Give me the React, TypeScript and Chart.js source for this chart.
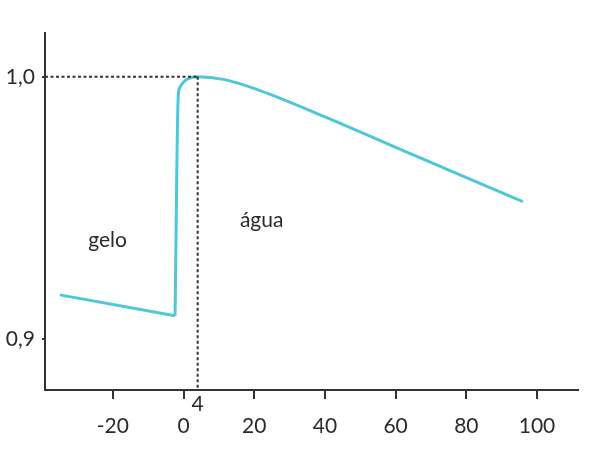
import React, { useEffect, useRef } from "react";
import { Chart, registerables } from "chart.js";

Chart.register(...registerables);

const iceTemps = [-35, -2.4];
const iceDensity = [0.9168, 0.9088];

const waterTemps = [-2.4, -1.55, -1.1, 0.4, 4, 11.3, 20.7, 39.5, 65.0, 96];
const waterDensity = [0.9088, 0.9912, 0.9958, 0.9985, 1.0, 0.999, 0.9952, 0.985, 0.9702, 0.9524];

const xTicks = [-20, 0, 20, 40, 60, 80, 100];
const yTicks = [0.9, 1.0];
const maxTemp = 4;
const maxDensity = 1.0;
const labels = [
  { text: "gelo", x: -21.5, y: 0.9378 },
  { text: "água", x: 22.1, y: 0.9454 },
];

const FONT = "Lato, 'Open Sans', sans-serif";
const LINE = "#4fc7d9";
const INK = "#2a2a2a";

const overlay = {
  id: "overlay",
  afterDatasetsDraw(chart: any) {
    const { ctx, scales, chartArea } = chart;
    const xs = scales.x;
    const ys = scales.y;
    const px = xs.getPixelForValue(maxTemp);
    const py = ys.getPixelForValue(maxDensity);
    ctx.save();
    ctx.strokeStyle = "#333";
    ctx.lineWidth = 2;
    ctx.setLineDash([3, 2.5]);
    ctx.beginPath();
    ctx.moveTo(chartArea.left, py);
    ctx.lineTo(px, py);
    ctx.moveTo(px, py);
    ctx.lineTo(px, chartArea.bottom);
    ctx.stroke();
    ctx.setLineDash([]);
    ctx.fillStyle = INK;
    ctx.font = "21px " + FONT;
    ctx.textAlign = "center";
    ctx.textBaseline = "middle";
    ctx.fillText(String(maxTemp), px, chartArea.bottom + 14);
    for (const l of labels) {
      ctx.fillText(l.text, xs.getPixelForValue(l.x), ys.getPixelForValue(l.y));
    }
    ctx.restore();
  },
};

export default function App() {
  const ref = useRef<HTMLCanvasElement>(null);
  useEffect(() => {
    if (!ref.current) return;
    const chart = new Chart(ref.current, {
      type: "line",
      data: {
        datasets: [
          {
            data: iceTemps.map((t, i) => ({ x: t, y: iceDensity[i] })),
            borderColor: LINE,
            borderWidth: 3,
            pointRadius: 0,
            tension: 0,
          },
          {
            data: waterTemps.map((t, i) => ({ x: t, y: waterDensity[i] })),
            borderColor: LINE,
            borderWidth: 3,
            pointRadius: 0,
            cubicInterpolationMode: "monotone",
          },
        ],
      },
      options: {
        responsive: false,
        animation: false,
        events: [],
        layout: { padding: { top: 33, right: 14, left: 0, bottom: 0 } },
        plugins: { legend: { display: false }, tooltip: { enabled: false } },
        scales: {
          x: {
            type: "linear",
            min: -39.2,
            max: 111.6,
            afterBuildTicks: (s: any) => {
              s.ticks = xTicks.map((v) => ({ value: v }));
            },
            afterFit: (s: any) => {
              s.height = 66;
            },
            border: { display: true, color: "#333", width: 2 },
            grid: { display: true, drawOnChartArea: false, drawTicks: true, tickLength: 9, color: "#333", lineWidth: 2 },
            ticks: {
              color: INK,
              font: { family: FONT, size: 21 },
              padding: 15,
              maxRotation: 0,
              autoSkip: false,
              callback: (v: any) => String(v),
            },
          },
          y: {
            type: "linear",
            min: 0.8805,
            max: 1.0167,
            afterBuildTicks: (s: any) => {
              s.ticks = yTicks.map((v) => ({ value: v }));
            },
            afterFit: (s: any) => {
              s.width = 45;
            },
            border: { display: true, color: "#333", width: 2 },
            grid: { display: true, drawOnChartArea: false, drawTicks: true, tickLength: 3, color: "#333", lineWidth: 2 },
            ticks: {
              color: INK,
              font: { family: FONT, size: 21 },
              padding: 7,
              autoSkip: false,
              callback: (v: any) => Number(v).toFixed(1).replace(".", ","),
            },
          },
        },
      },
      plugins: [overlay],
    } as any);
    return () => chart.destroy();
  }, []);
  return (
    <div style={{ position: "absolute", left: 0, top: 0, width: 592, height: 456, background: "#fff" }}>
      <canvas ref={ref} width={592} height={456} />
    </div>
  );
}
